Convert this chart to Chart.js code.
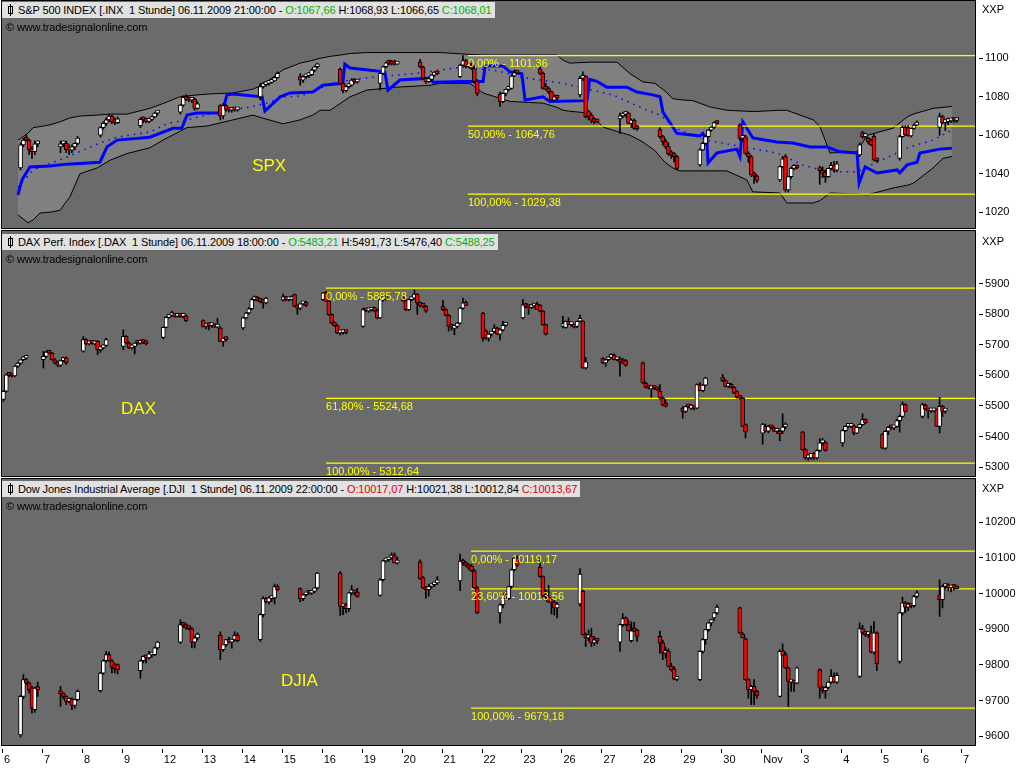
<!DOCTYPE html>
<html><head><meta charset="utf-8">
<script src="https://cdn.jsdelivr.net/npm/chart.js@4.4.1/dist/chart.umd.min.js"></script>
<style>
html,body{margin:0;padding:0;background:#ffffff;}
body{width:1024px;height:768px;position:relative;overflow:hidden;font-family:"Liberation Sans",Arial,sans-serif;}
canvas{position:absolute;left:0;}
.hdr{position:absolute;left:2px;height:16px;line-height:16px;background:#e1e1e1;font-size:11px;letter-spacing:-0.12px;color:#000;white-space:nowrap;padding:0 3px 0 16px;}
.ico{position:absolute;left:6px;top:4px;width:5px;height:8px;border:1px solid #000;box-sizing:border-box;background:#e1e1e1;}
.ico:before{content:'';position:absolute;left:1px;top:-3px;width:1px;height:12px;background:#000;}
.copy{position:absolute;left:6px;font-size:11px;letter-spacing:-0.12px;color:#000;}
.xxp{position:absolute;left:982px;font-size:11px;color:#000;}
.up{color:#00b400}.dn{color:#e00000}
</style></head>
<body>
<canvas id="c1" width="1024" height="230" style="top:0px"></canvas>
<canvas id="c2" width="1024" height="248" style="top:230px"></canvas>
<canvas id="c3" width="1024" height="290" style="top:478px"></canvas>

<div class="hdr" style="top:2px"><span class="ico"></span>S&amp;P 500 INDEX [.INX&nbsp; 1 Stunde] 06.11.2009 21:00:00 - <span class="up">O:1067,66</span> H:1068,93 L:1066,65 <span class="up">C:1068,01</span></div>
<div class="copy" style="top:21px">© www.tradesignalonline.com</div>
<div class="xxp" style="top:3px">XXP</div>

<div class="hdr" style="top:234px"><span class="ico"></span>DAX Perf. Index [.DAX&nbsp; 1 Stunde] 06.11.2009 18:00:00 - <span class="up">O:5483,21</span> H:5491,73 L:5476,40 <span class="up">C:5488,25</span></div>
<div class="copy" style="top:253px">© www.tradesignalonline.com</div>
<div class="xxp" style="top:235px">XXP</div>

<div class="hdr" style="top:481px"><span class="ico"></span>Dow Jones Industrial Average [.DJI&nbsp; 1 Stunde] 06.11.2009 22:00:00 - <span class="dn">O:10017,07</span> H:10021,38 L:10012,84 <span class="dn">C:10013,67</span></div>
<div class="copy" style="top:500px">© www.tradesignalonline.com</div>
<div class="xxp" style="top:482px">XXP</div>

<script>
// ---------------- shared axis data ----------------
const DAY_LABELS = ['6','7','8','9','12','13','14','15','16','19','20','21','22','23','26','27','28','29','30','Nov','3','4','5','6','7'];
const SLOTS_PER_DAY = 14;
const X_RANGE = [0, 24.35];

// ---------------- S&P 500 ----------------
const SPX_RANGE = [1011.8, 1129.8];
const SPX_TICKS = [1020, 1040, 1060, 1080, 1100];
const SPX_FIB_PCT = ['0,00%', '50,00%', '100,00%'];
const SPX_FIB_VAL = [1101.36, 1064.76, 1029.38];
const SPX_FIB_FROM = 11.66;
const SPX_NAME = 'SPX';
const SPX_NAME_AT = [6.26, 1044];
const SPX_FIRST_SLOT = 6;
const SPX_BARS = [
 [[1043,1056,1042,1055],[1055,1058.5,1054,1057.5],[1058.5,1060,1057,1057.5],[1057.5,1058,1050,1052.5],[1053,1054,1048,1051.5],[1051.5,1057,1050,1055.5],[1055.5,1057,1054,1056]],
 [[1054,1057,1051,1055.5],[1055.5,1057,1054,1056],[1056,1057,1051,1052.5],[1053,1055,1050,1052.3],[1052.3,1055,1051,1054],[1054,1056,1052.5,1055.8],[1055.8,1059.5,1055,1058.5]],
 [[1060,1064.5,1059,1064],[1064,1067,1063,1066.2],[1066.2,1069,1065,1068],[1068,1071,1067,1070],[1070,1070.5,1066,1067],[1067.5,1069,1065.5,1066.5],[1066.5,1069.5,1066,1068.5]],
 [[1065,1069,1064,1068.3],[1068.3,1069.5,1066.5,1068],[1068,1069,1066.5,1067.2],[1067.2,1069,1066.5,1068.2],[1068.2,1070,1067.5,1069.5],[1069.5,1072,1069,1071.5],[1071.5,1072.5,1070.5,1071.5]],
 [[1072,1076,1071,1075.7],[1075.7,1080.5,1075,1079.7],[1079.7,1081,1078,1078.7],[1078.7,1080,1077.5,1078.2],[1078.2,1079,1077,1078.5],[1078.7,1079.5,1073,1074],[1074,1077.5,1073.5,1076.3]],
 [[1075.5,1076,1068,1070],[1070,1076.5,1068.5,1075.5],[1075.5,1076,1072.5,1073.5],[1073.5,1074.5,1072,1073],[1073,1074.5,1072,1073.8],[1073.8,1074.5,1072.5,1073.2],[1073.2,1074,1072.5,1073.2]],
 [[1080,1087,1078.5,1085.3],[1085.3,1087.5,1084.5,1086.3],[1086.3,1087.5,1085.5,1087],[1087,1088,1086,1087.5],[1087.5,1089,1087,1088.3],[1088.3,1090.5,1088,1090],[1090,1093,1089.5,1092.2]],
 [[1090.5,1092,1086,1088.7],[1088.7,1091,1087.5,1090.4],[1090.4,1091.5,1089.5,1091],[1091,1092.5,1090,1091.5],[1091.5,1094.5,1091,1093.9],[1093.9,1096,1093,1095.6],[1095.6,1097.5,1095,1096.5]],
 [[1094.3,1095,1086.5,1087],[1087,1087.5,1082,1083.2],[1083.2,1086,1082.5,1085.3],[1085.3,1086.5,1084.5,1086.1],[1086.1,1089.5,1085.5,1088.7],[1088.7,1089.5,1087,1087.7],[1087.7,1088.5,1087,1087.7]],
 [[1087,1092.5,1083.5,1092.2],[1092.2,1096,1091.5,1095.6],[1095.6,1098,1095,1097.7],[1098.5,1099,1096.5,1097.5],[1097.5,1099,1096.5,1097],[1097.5,1099,1096.5,1097],[1097,1098.5,1096.8,1097.8]],
 [[1098.2,1099.5,1095,1095.6],[1095.6,1096,1089,1089.6],[1089.6,1090,1087,1087.9],[1087.9,1090,1087.5,1089.1],[1089.1,1091.5,1088.5,1091.3],[1091.3,1093,1090.5,1092.2],[1092.2,1093,1091.5,1092]],
 [[1090.5,1097,1090,1096.5],[1096.5,1101.4,1096,1098.8],[1098.8,1099.5,1095,1095.6],[1095.6,1098,1095,1096.5],[1096.5,1097.5,1094,1094.8],[1094.8,1096,1087,1088],[1088,1089,1080.5,1081.8]],
 [[1081.4,1082.5,1075,1077.5],[1077.5,1082,1077,1081.8],[1081.8,1084,1080.5,1083.9],[1083.9,1085,1083,1084.4],[1084.4,1091.5,1084,1090.8],[1090.8,1094,1090.5,1092.5],[1092.5,1093,1092,1092.3]],
 [[1094.5,1096,1091.5,1092.2],[1092.2,1093,1084,1084.4],[1084.4,1087,1083.5,1083.9],[1083.9,1085,1081.5,1082.7],[1082.7,1083,1078,1078.3],[1078.3,1081,1077.5,1080],[1080,1080.5,1078.5,1079.3]],
 [[1081,1090.5,1080,1089.6],[1089.6,1093,1088.5,1090.5],[1090.5,1091,1069,1069.7],[1072.3,1073,1068,1069.7],[1070.5,1071.5,1066.5,1067.9],[1068.5,1069,1066,1067.1],[1067.1,1068,1066.5,1067]],
 [[1068.5,1071.5,1061,1070],[1070,1072,1069,1070.8],[1070.8,1072.5,1069.5,1071.5],[1071.5,1072,1066,1066.2],[1066.2,1068.5,1064,1067.9],[1067.9,1068.5,1063,1063.6],[1063.6,1065,1062.5,1063.4]],
 [[1063,1064,1058.5,1059.3],[1059.3,1060,1055,1056.7],[1056.7,1058,1053,1054.1],[1054.1,1056,1049.5,1050.5],[1050.5,1052,1048,1049.8],[1049.8,1051,1046,1048.9],[1048.9,1049.5,1042,1042.8]],
 [[1044.6,1053,1044,1052.4],[1052.4,1056.5,1052,1055.8],[1055.8,1060,1055,1059.3],[1059.3,1063,1058.5,1062.7],[1062.7,1064.5,1062,1064.1],[1064.1,1067,1063.5,1066.6],[1066.6,1067.5,1065.8,1066.1]],
 [[1065.4,1066,1057.5,1058.4],[1058.4,1059.5,1057,1059.2],[1059.2,1060,1050,1050.6],[1050.6,1051.5,1046,1048.9],[1048.9,1049.5,1038.5,1039.4],[1039.4,1041,1035,1038.8],[1038.8,1039.5,1035.5,1036.5]],
 [[1036.8,1044,1036,1043.7],[1043.7,1049,1043,1047.8],[1048.9,1050,1030.5,1031.6],[1031.6,1038.5,1030.5,1038.5],[1038.5,1043.5,1037.5,1042.8],[1042.8,1044.8,1042,1043.7],[1043.7,1044.5,1042.5,1043]],
 [[1042,1044,1034.5,1041.6],[1041.6,1043.5,1038,1040.2],[1040.8,1042,1035.5,1038.5],[1038.5,1043,1038,1042.8],[1042.8,1046,1042,1044.2],[1044.5,1046.5,1041,1041.8],[1041.8,1046.5,1041,1045.1]],
 [[1049.8,1056,1049,1055],[1061.4,1062,1058.5,1059.3],[1059.3,1061,1058.5,1060.6],[1058.4,1059,1055.5,1056.7],[1057.5,1058,1054.5,1055],[1059.5,1060.5,1046.5,1047.2],[1047.2,1048,1046,1046.7]],
 [[1048,1060,1047,1059.3],[1059.3,1065,1059,1064.1],[1064.1,1065,1060,1060.2],[1064,1065,1059.5,1059.7],[1059.7,1063.5,1059,1063.6],[1063.6,1066,1063,1065.3],[1065.3,1067.5,1065,1066.8]],
 [[1064.1,1071.5,1060,1069.7],[1069.7,1070.5,1066,1066.6],[1066.6,1068,1062.5,1067.1],[1067.1,1069,1065.5,1067.5],[1067.5,1068.5,1066.5,1067.8],[1067.8,1068.9,1066.6,1067.7],[1067.66,1068.93,1066.65,1068.01]]
];
const SPX_BAND_X  = [0.40,0.65,0.78,0.95,1.20,1.45,1.70,1.95,2.38,2.70,3.13,3.70,4.03,4.45,4.63,5.13,5.78,6.28,6.51,7.03,7.46,7.78,7.96,8.21,8.46,8.71,9.13,9.88,10.71,10.96,11.71,12.04,12.71,13.54,13.89,14.04,14.21,14.71,15.04,15.39,15.72,16.04,16.34,16.59,16.79,16.97,17.29,17.72,18.14,18.64,18.79,19.47,19.64,20.30,20.47,20.72,21.40,21.65,22.30,22.65,22.80,23.30,23.55,23.77];
const SPX_BAND_UP = [1057.5,1061,1064,1064.5,1065.4,1067,1069,1070,1070.5,1071,1071,1074,1076.5,1080,1080.5,1081.4,1082,1084,1086,1094,1097.5,1099,1100,1101,1101.7,1102.5,1103,1103,1103,1103,1102,1101.7,1101.7,1101.7,1101.7,1099,1097.5,1098,1098,1098,1092,1087.7,1087,1083,1079,1078.5,1078,1074.7,1073,1072.5,1072.3,1073,1073,1068,1064.5,1050.8,1051.4,1060,1063.7,1069.5,1071,1074,1074.5,1075];
const SPX_BAND_LO = [1018.6,1014.5,1016,1019.6,1020,1021,1028,1040,1043,1047,1050.5,1053.5,1057.5,1062,1064,1064.8,1068,1070.5,1069,1066,1068,1070.5,1073,1073,1076.5,1080,1083.5,1085,1086,1087,1087,1082,1077.6,1076.7,1074.5,1073,1072.5,1071.5,1064.3,1062,1060,1056.5,1052,1046,1043,1041.5,1041.5,1041.5,1041.5,1036.8,1030.6,1030,1024.8,1024.8,1026,1030,1029.5,1029,1032.6,1034,1035,1043,1048,1049];
const SPX_AVG_X = [0.40,0.50,0.70,1.20,1.63,2.45,2.63,2.88,3.70,4.28,4.50,4.63,4.88,5.51,5.63,5.78,6.51,6.58,6.96,7.21,7.78,8.03,8.53,8.58,8.71,9.58,9.66,9.96,10.71,10.79,11.54,12.04,12.09,12.54,12.71,13.01,13.09,13.54,13.71,14.64,14.71,14.89,15.14,15.64,15.89,16.29,16.47,16.54,16.89,17.47,17.54,17.64,17.67,17.89,18.39,18.47,18.54,18.79,19.39,19.79,20.22,20.65,20.97,21.40,21.45,21.60,21.90,22.40,22.47,22.65,22.90,22.97,23.47,23.77];
const SPX_AVG   = [1029,1036.8,1043.5,1044,1045,1046,1054,1057.5,1059,1063.6,1063.6,1070.5,1071.6,1071.6,1081,1081.5,1080,1072.6,1080,1082,1082.5,1086,1087,1097,1095,1093,1083.5,1088.7,1089.7,1087.6,1088,1088,1096,1096,1093,1092,1078.3,1080,1077.6,1078,1089,1088,1085,1085,1082.5,1081,1080,1072,1061,1059.6,1061,1057.5,1045.6,1050.8,1052.8,1048.9,1067,1058.6,1056.5,1056,1053.9,1053.9,1051.4,1050.8,1035,1043.6,1040.4,1042,1040.5,1044.6,1046,1050.8,1052.8,1053.3];
const SPX_MID_X = [0.40,0.78,1.63,2.45,2.88,3.70,4.13,4.63,5.38,6.21,6.63,7.03,7.46,7.88,8.21,9.03,10.29,11.54,12.39,13.04,14.04,15.29,16.14,16.47,16.89,17.64,18.54,19.39,20.04,20.65,21.40,21.90,22.72,23.30,23.77];
const SPX_MID   = [1033,1042,1048.7,1056,1059,1061.7,1066,1068,1072,1074.7,1076.7,1080,1080.4,1083.5,1087,1089.7,1092,1095.5,1093.5,1090,1087,1081,1073,1070.5,1063.2,1057.5,1053.9,1050.8,1044.6,1041,1041,1046,1053.9,1057.5,1062.7];

// ---------------- DAX ----------------
const DAX_RANGE = [5270.7, 6072.4];
const DAX_TICKS = [5300, 5400, 5500, 5600, 5700, 5800, 5900];
const DAX_FIB_PCT = ['0,00%', '61,80%', '100,00%'];
const DAX_FIB_VAL = [5885.78, 5524.68, 5312.64];
const DAX_FIB_FROM = 8.11;
const DAX_NAME = 'DAX';
const DAX_NAME_AT = [2.98, 5490];
const DAX_FIRST_SLOT = 0;
const DAX_BARS = [
 [[5521,5550,5515,5548],[5548,5605,5545,5602],[5602,5606,5596,5600],[5600,5604,5594,5598],[5598,5632,5596,5630],[5630,5642,5626,5640],[5640,5652,5636,5651],[5651,5662,5648,5656],[5656,5664,5652,5662]],
 [[5651,5679,5624,5662],[5662,5680,5658,5676],[5676,5678,5670,5673],[5673,5675,5650,5651],[5651,5655,5638,5640],[5640,5645,5628,5633],[5633,5650,5628,5648],[5648,5660,5645,5657],[5657,5660,5636,5641]],
 [[5679,5727,5676,5717],[5717,5720,5700,5703],[5703,5710,5700,5706],[5706,5709,5702,5705],[5703,5714,5700,5711],[5711,5714,5668,5684],[5684,5695,5675,5690],[5690,5700,5686,5698],[5698,5722,5695,5717]],
 [[5695,5749,5684,5728],[5728,5730,5704,5706],[5706,5710,5688,5690],[5690,5700,5686,5695],[5695,5706,5670,5706],[5706,5710,5700,5705],[5705,5716,5702,5714],[5714,5718,5704,5707],[5707,5714,5700,5703]],
 [[5724,5759,5720,5757],[5757,5792,5755,5790],[5790,5797,5786,5796],[5796,5810,5792,5798],[5798,5801,5790,5793],[5793,5802,5790,5800],[5800,5803,5790,5793],[5793,5798,5788,5795],[5795,5797,5776,5779]],
 [[5779,5782,5758,5760],[5760,5768,5752,5766],[5766,5770,5749,5763],[5763,5769,5757,5766],[5766,5769,5757,5758],[5758,5786,5755,5768],[5755,5758,5710,5711],[5711,5722,5695,5720],[5720,5725,5712,5717]],
 [[5755,5790,5750,5788],[5788,5806,5785,5804],[5804,5822,5800,5818],[5818,5852,5815,5848],[5848,5860,5845,5855],[5855,5858,5843,5845],[5845,5852,5838,5842],[5842,5848,5820,5837],[5837,5855,5834,5853]],
 [[5847,5866,5843,5855],[5855,5858,5844,5848],[5848,5852,5844,5848],[5848,5860,5846,5858],[5864,5866,5825,5826],[5826,5830,5800,5820],[5820,5836,5815,5834],[5834,5842,5830,5837],[5837,5842,5826,5829]],
 [[5848,5872,5845,5870],[5870,5875,5840,5842],[5842,5846,5796,5799],[5799,5802,5768,5771],[5771,5775,5760,5763],[5763,5766,5736,5739],[5739,5745,5732,5740],[5740,5744,5735,5741],[5741,5744,5736,5740]],
 [[5760,5820,5758,5815],[5815,5818,5808,5811],[5811,5816,5806,5814],[5814,5822,5810,5820],[5820,5824,5808,5812],[5812,5816,5785,5788],[5788,5850,5786,5848],[5848,5853,5843,5851],[5851,5854,5846,5850]],
 [[5853,5858,5842,5844],[5844,5848,5812,5815],[5815,5850,5812,5848],[5848,5856,5844,5853],[5853,5880,5850,5866],[5866,5868,5800,5837],[5837,5840,5824,5829],[5833,5836,5822,5826],[5826,5828,5806,5810]],
 [[5823,5845,5812,5815],[5815,5818,5795,5796],[5796,5800,5745,5760],[5760,5764,5748,5758],[5754,5762,5733,5760],[5760,5773,5755,5771],[5771,5822,5768,5820],[5820,5853,5816,5837],[5840,5844,5828,5829]],
 [[5804,5806,5712,5722],[5746,5750,5718,5722],[5722,5736,5712,5735],[5735,5745,5728,5744],[5744,5766,5740,5755],[5755,5758,5733,5735],[5735,5752,5716,5749],[5749,5777,5745,5764],[5764,5772,5760,5766]],
 [[5788,5848,5785,5831],[5831,5836,5820,5825],[5825,5828,5800,5822],[5822,5830,5818,5827],[5827,5832,5820,5830],[5833,5840,5815,5815],[5830,5832,5808,5810],[5810,5812,5764,5766],[5766,5768,5732,5735]],
 [[5760,5793,5755,5762],[5757,5778,5754,5777],[5777,5788,5766,5766],[5766,5772,5760,5771],[5762,5768,5755,5758],[5760,5778,5756,5777],[5777,5797,5775,5786],[5777,5779,5623,5624],[5624,5659,5620,5644]],
 [[5655,5658,5638,5641],[5641,5653,5630,5651],[5651,5662,5648,5659],[5659,5670,5656,5668],[5666,5670,5650,5651],[5651,5657,5648,5654],[5654,5660,5597,5643],[5651,5656,5638,5641],[5648,5652,5630,5633]],
 [[5641,5644,5573,5575],[5575,5578,5558,5561],[5561,5565,5555,5559],[5556,5563,5528,5561],[5561,5566,5553,5558],[5558,5562,5550,5553],[5548,5570,5522,5526],[5526,5530,5500,5503],[5503,5520,5496,5499]],
 [[5493,5497,5460,5482],[5482,5500,5478,5498],[5498,5502,5494,5497],[5492,5505,5488,5503],[5498,5502,5487,5493],[5493,5572,5490,5570],[5568,5576,5550,5550],[5550,5570,5546,5568],[5568,5594,5565,5591]],
 [[5593,5603,5580,5583],[5583,5586,5562,5564],[5564,5575,5560,5572],[5570,5574,5558,5561],[5561,5563,5540,5542],[5547,5550,5525,5528],[5528,5530,5522,5525],[5526,5528,5432,5433],[5439,5442,5395,5415]],
 [[5411,5443,5375,5439],[5433,5441,5415,5417],[5417,5436,5412,5433],[5433,5437,5425,5428],[5428,5432,5416,5417],[5417,5424,5410,5417],[5415,5420,5386,5408],[5417,5474,5410,5431],[5431,5445,5425,5433]],
 [[5415,5416,5355,5357],[5357,5360,5325,5330],[5330,5340,5322,5334],[5330,5345,5325,5345],[5345,5348,5325,5330],[5330,5356,5326,5354],[5354,5393,5350,5379],[5379,5394,5372,5384],[5380,5384,5352,5354]],
 [[5379,5422,5368,5419],[5419,5435,5416,5433],[5433,5438,5428,5433],[5433,5440,5430,5435],[5435,5438,5405,5411],[5411,5432,5409,5430],[5430,5441,5425,5439],[5439,5474,5436,5455],[5455,5458,5442,5444]],
 [[5408,5410,5360,5362],[5362,5420,5358,5417],[5417,5432,5406,5430],[5430,5434,5424,5428],[5428,5436,5422,5433],[5433,5456,5430,5452],[5452,5470,5414,5466],[5466,5513,5462,5504],[5504,5507,5480,5482]],
 [[5466,5509,5460,5504],[5503,5506,5487,5489],[5489,5492,5460,5484],[5484,5489,5478,5486],[5484,5490,5480,5488],[5488,5490,5433,5433],[5433,5528,5412,5499],[5499,5502,5465,5482],[5483.21,5491.73,5476.4,5488.25]]
];

// ---------------- Dow Jones ----------------
const DJI_RANGE = [9575.7, 10321.4];
const DJI_TICKS = [9600, 9700, 9800, 9900, 10000, 10100, 10200];
const DJI_FIB_PCT = ['0,00%', '23,60%', '100,00%'];
const DJI_FIB_VAL = [10119.17, 10013.56, 9679.18];
const DJI_FIB_FROM = 11.74;
const DJI_NAME = 'DJIA';
const DJI_NAME_AT = [6.98, 9755];
const DJI_FIRST_SLOT = 6;
const DJI_BARS = [
 [[9604,9715,9598,9712],[9712,9773,9705,9759],[9759,9762,9745,9750],[9750,9752,9722,9731],[9736,9740,9665,9679],[9675,9738,9667,9735],[9737,9752,9712,9731]],
 [[9726,9740,9684,9719],[9719,9722,9705,9712],[9712,9714,9689,9698],[9698,9705,9694,9703],[9705,9708,9675,9687],[9687,9703,9679,9703],[9703,9730,9700,9726]],
 [[9728,9780,9724,9777],[9777,9815,9774,9812],[9812,9838,9808,9829],[9829,9836,9810,9812],[9812,9815,9778,9793],[9801,9805,9778,9790],[9801,9803,9775,9787]],
 [[9784,9814,9763,9812],[9812,9826,9806,9824],[9824,9828,9806,9820],[9820,9838,9816,9831],[9828,9836,9822,9836],[9829,9851,9826,9848],[9848,9866,9844,9864]],
 [[9864,9927,9860,9913],[9913,9918,9905,9911],[9911,9916,9900,9905],[9905,9910,9898,9902],[9902,9905,9848,9864],[9864,9880,9848,9876],[9876,9890,9870,9887]],
 [[9883,9893,9815,9843],[9843,9856,9838,9857],[9857,9872,9852,9871],[9871,9878,9862,9864],[9864,9873,9847,9871],[9871,9893,9866,9883],[9883,9890,9865,9868]],
 [[9871,9944,9866,9941],[9941,9992,9935,9986],[9986,9990,9974,9977],[9977,9992,9971,9988],[9986,9990,9978,9988],[9988,10027,9971,10020],[10020,10025,10008,10011]],
 [[10014,10016,9977,9986],[9986,9999,9980,9997],[9997,10004,9993,10002],[10002,10005,9998,10001],[10001,10007,9997,10006],[10006,10016,10002,10016],[10016,10060,10012,10058]],
 [[10058,10062,9939,9964],[9964,9969,9941,9966],[9969,9972,9946,9958],[9958,10003,9950,10002],[10002,10023,9996,10004],[10004,10010,9997,10002],[10004,10015,9990,9992]],
 [[9995,10042,9993,10039],[10039,10094,10036,10092],[10092,10100,10088,10095],[10095,10101,10090,10100],[10100,10114,10096,10107],[10107,10114,10085,10086],[10086,10102,10083,10090]],
 [[10089,10095,10040,10042],[10045,10048,10014,10016],[10016,10020,9987,10011],[10011,10026,9993,10020],[10020,10026,10015,10025],[10025,10032,10020,10030],[10030,10048,10026,10038]],
 [[10036,10111,10008,10091],[10091,10097,10080,10086],[10086,10090,10076,10079],[10079,10084,10068,10072],[10077,10083,10062,10064],[10064,10068,10014,10016],[10016,10020,9944,9946]],
 [[9946,9972,9917,9969],[9969,10000,9960,9997],[9997,10000,9985,9986],[9986,10021,9983,10020],[10020,10069,10015,10067],[10067,10103,10063,10100],[10100,10106,10076,10079]],
 [[10074,10100,10046,10048],[10048,10050,9990,9993],[9993,10013,9982,9990],[9990,10023,9975,9977],[9977,9982,9943,9976],[9976,9980,9940,9960],[9960,9975,9932,9971]],
 [[9971,10070,9965,10055],[10007,10010,9884,9885],[9885,9890,9852,9876],[9876,9898,9868,9880],[9880,9903,9852,9862],[9862,9880,9855,9868],[9868,9874,9860,9867]],
 [[9864,9915,9838,9913],[9913,9944,9908,9930],[9932,9935,9910,9913],[9913,9925,9895,9896],[9868,9921,9864,9896],[9898,9920,9893,9895],[9898,9900,9866,9880]],
 [[9880,9895,9833,9862],[9862,9870,9815,9833],[9833,9850,9820,9838],[9838,9845,9795,9796],[9796,9805,9783,9787],[9789,9795,9758,9760],[9760,9765,9755,9762]],
 [[9759,9840,9756,9838],[9838,9874,9833,9871],[9871,9900,9858,9899],[9899,9920,9894,9918],[9918,9928,9910,9927],[9932,9947,9925,9946],[9946,9969,9942,9962]],
 [[9960,9962,9888,9890],[9887,9892,9876,9876],[9873,9876,9757,9759],[9759,9762,9707,9731],[9731,9744,9689,9740],[9740,9759,9689,9726],[9726,9730,9707,9715]],
 [[9712,9843,9710,9838],[9840,9859,9826,9827],[9829,9836,9790,9792],[9792,9794,9684,9754],[9752,9756,9726,9754],[9754,9756,9726,9749],[9749,9794,9747,9792]],
 [[9787,9789,9707,9737],[9737,9740,9721,9728],[9728,9740,9707,9737],[9737,9753,9733,9752],[9752,9787,9748,9768],[9768,9778,9750,9752],[9752,9778,9748,9771]],
 [[9768,9918,9765,9902],[9902,9911,9887,9890],[9890,9895,9880,9885],[9885,9892,9878,9890],[9890,9909,9834,9836],[9836,9922,9830,9890],[9890,9893,9784,9803]],
 [[9810,9948,9805,9946],[9946,9990,9940,9974],[9974,9978,9946,9962],[9962,9975,9952,9969],[9969,9972,9960,9965],[9966,9995,9962,9992],[9992,10008,9988,10002]],
 [[9997,10039,9936,9983],[9983,10024,9960,10020],[10020,10027,10012,10024],[10024,10028,10008,10016],[10016,10022,10005,10021],[10021,10026,10010,10017],[10017.07,10021.38,10012.84,10013.67]]
];

// ---------------- builders ----------------
const FONT = '"Liberation Sans", Arial, sans-serif';

function candleSets(bars, firstSlot) {
  const wick = [], body = [], fill = [];
  bars.forEach((day, d) => day.forEach((b, j) => {
    const x = d + (firstSlot + j + 0.5) / SLOTS_PER_DAY;
    wick.push({ x, y: [b[2], b[1]] });
    body.push({ x, y: [b[0], b[3]] });
    fill.push(b[3] >= b[0] ? '#ffffff' : '#ff0000');
  }));
  return [
    { type: 'bar', data: body, backgroundColor: fill, borderColor: '#000000', borderWidth: 1,
      borderSkipped: false, barThickness: 4, minBarLength: 3, grouped: false, order: 0 },
    { type: 'bar', data: wick, backgroundColor: '#000000', borderWidth: 0,
      barThickness: 1, minBarLength: 1, grouped: false, order: 1 }
  ];
}

function fibSets(vals, from) {
  return vals.map(v => ({
    type: 'line', data: [{ x: from, y: v }, { x: X_RANGE[1], y: v }],
    borderColor: '#ffff00', borderWidth: 1.2, pointRadius: 0, fill: false, order: 2
  }));
}

function lineSet(xs, ys, extra) {
  return Object.assign({ type: 'line', data: xs.map((x, i) => ({ x, y: ys[i] })),
    pointRadius: 0, tension: 0, fill: false }, extra);
}

function noPad(s) { s.paddingTop = 0; s.paddingBottom = 0; s.paddingLeft = 0; s.paddingRight = 0; }

const panelPlugin = {
  id: 'panel',
  beforeDraw(chart) {
    const { ctx, chartArea: a } = chart;
    ctx.save();
    ctx.fillStyle = '#6b6b6b';
    ctx.fillRect(a.left, a.top, a.right - a.left, a.bottom - a.top);
    ctx.restore();
  },
  afterDatasetsDraw(chart, args, opts) {
    const { ctx, chartArea: a, scales } = chart;
    const xs = scales.x, ys = scales.y;
    ctx.save();
    ctx.fillStyle = '#ffff00';
    ctx.font = '11px ' + FONT;
    ctx.textAlign = 'left';
    ctx.textBaseline = 'top';
    const fx = xs.getPixelForValue(opts.fibFrom);
    opts.fibVal.forEach((v, i) => {
      const y = ys.getPixelForValue(v);
      ctx.fillText(opts.fibPct[i] + ' - ' + v.toFixed(2).replace('.', ','), fx, y + 3);
    });
    ctx.font = '17px ' + FONT;
    ctx.textBaseline = 'middle';
    ctx.fillText(opts.name, xs.getPixelForValue(opts.nameAt[0]), ys.getPixelForValue(opts.nameAt[1]));
    ctx.strokeStyle = '#000000';
    ctx.lineWidth = 1;
    ctx.strokeRect(a.left - 0.5, a.top - 0.5, a.right - a.left + 1, a.bottom - a.top + 1);
    if (opts.showX) {
      ctx.beginPath();
      DAY_LABELS.forEach((_, i) => {
        const px = Math.round(xs.getPixelForValue(i)) + 0.5;
        ctx.moveTo(px, a.bottom + 4);
        ctx.lineTo(px, a.bottom + 8);
      });
      ctx.stroke();
    }
    ctx.restore();
  }
};

function makeChart(id, cfg) {
  const datasets = [].concat(
    candleSets(cfg.bars, cfg.firstSlot),
    fibSets(cfg.fibVal, cfg.fibFrom),
    cfg.extra || []
  );
  const showX = !!cfg.showX;
  return new Chart(document.getElementById(id), {
    type: 'bar',
    data: { datasets },
    plugins: [panelPlugin],
    options: {
      animation: false, responsive: false, maintainAspectRatio: false, events: [],
      layout: { padding: { left: 2, top: 1, right: 0, bottom: showX ? 0 : 2 } },
      plugins: {
        legend: { display: false }, tooltip: { enabled: false },
        panel: { fibVal: cfg.fibVal, fibPct: cfg.fibPct, fibFrom: cfg.fibFrom, name: cfg.name, nameAt: cfg.nameAt, showX }
      },
      scales: {
        x: {
          type: 'linear', min: X_RANGE[0], max: X_RANGE[1], offset: false, display: showX,
          afterBuildTicks: s => { s.ticks = DAY_LABELS.map((_, i) => ({ value: i })); },
          afterFit: s => { noPad(s); if (showX) s.height = 23; },
          border: { display: false },
          grid: { drawOnChartArea: false, drawTicks: true, tickLength: 7, tickColor: 'rgba(0,0,0,0)' },
          ticks: { color: '#000000', font: { family: FONT, size: 11 }, autoSkip: false,
                   maxRotation: 0, minRotation: 0, align: 'start', labelOffset: 2, padding: 1,
                   callback: v => DAY_LABELS[v] }
        },
        y: {
          type: 'linear', position: 'right', min: cfg.range[0], max: cfg.range[1],
          afterBuildTicks: s => { s.ticks = cfg.ticks.map(v => ({ value: v })); },
          afterFit: s => { noPad(s); s.width = 49; },
          border: { display: false },
          grid: { drawOnChartArea: false, drawTicks: true, tickLength: 8, tickColor: '#000000',
                  tickBorderDash: [0, 4, 4, 40] },
          ticks: { color: '#000000', font: { family: FONT, size: 11 }, padding: 2,
                   callback: v => String(v) }
        }
      }
    }
  });
}

const spxExtra = [
  lineSet(SPX_BAND_X, SPX_BAND_UP, { borderColor: '#000000', borderWidth: 1, fill: '+1', backgroundColor: '#808080', order: 6 }),
  lineSet(SPX_BAND_X, SPX_BAND_LO, { borderColor: '#000000', borderWidth: 1, order: 5 }),
  lineSet(SPX_MID_X, SPX_MID, { borderColor: '#0000ff', borderWidth: 1.5, borderDash: [1.5, 5], order: 4 }),
  lineSet(SPX_AVG_X, SPX_AVG, { borderColor: '#0000ff', borderWidth: 3, order: 3 })
];

makeChart('c1', { bars: SPX_BARS, firstSlot: SPX_FIRST_SLOT, range: SPX_RANGE, ticks: SPX_TICKS,
  fibVal: SPX_FIB_VAL, fibPct: SPX_FIB_PCT, fibFrom: SPX_FIB_FROM, name: SPX_NAME, nameAt: SPX_NAME_AT, extra: spxExtra });
makeChart('c2', { bars: DAX_BARS, firstSlot: DAX_FIRST_SLOT, range: DAX_RANGE, ticks: DAX_TICKS,
  fibVal: DAX_FIB_VAL, fibPct: DAX_FIB_PCT, fibFrom: DAX_FIB_FROM, name: DAX_NAME, nameAt: DAX_NAME_AT });
makeChart('c3', { bars: DJI_BARS, firstSlot: DJI_FIRST_SLOT, range: DJI_RANGE, ticks: DJI_TICKS,
  fibVal: DJI_FIB_VAL, fibPct: DJI_FIB_PCT, fibFrom: DJI_FIB_FROM, name: DJI_NAME, nameAt: DJI_NAME_AT, showX: true });
</script>
</body></html>
